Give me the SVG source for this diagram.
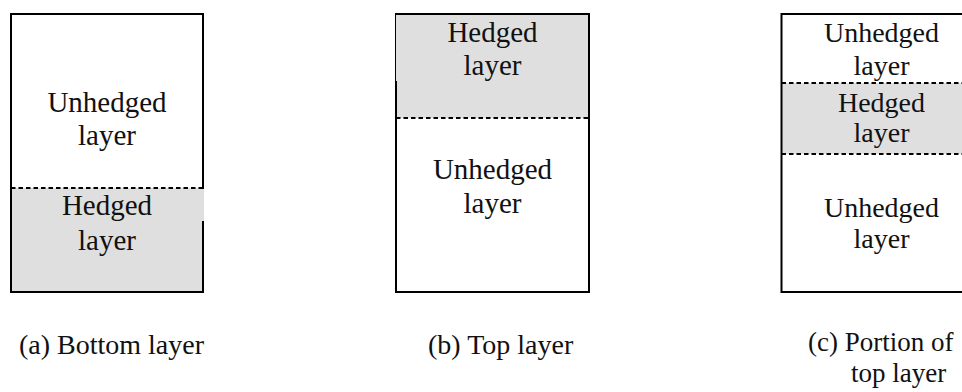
<svg xmlns="http://www.w3.org/2000/svg" width="962" height="392" viewBox="0 0 962 392">
  <defs>
    <style>
      .box { fill: none; stroke: #000; stroke-width: 2; }
      .bg { fill: #ffffff; }
      .hedge { fill: #dfdfdf; }
      .dash { stroke: #000; stroke-width: 2; stroke-dasharray: 4.5 3; fill: none; }
      .lbl { font-family: "Liberation Serif", "Times New Roman", serif; font-size: 29px; fill: #111; text-anchor: middle; }
      .lblc { font-family: "Liberation Serif", "Times New Roman", serif; font-size: 28px; fill: #111; text-anchor: middle; }
      .cap { font-family: "Liberation Serif", "Times New Roman", serif; font-size: 28px; fill: #111; }
      .capc { font-family: "Liberation Serif", "Times New Roman", serif; font-size: 27px; fill: #111; }
    </style>
  </defs>
  <rect x="0" y="0" width="962" height="392" fill="#ffffff"/>

  <g id="panel-a">
    <rect class="bg" x="11" y="14" width="192" height="278"/>
    <rect class="hedge" x="11" y="188" width="192" height="104"/>
    <rect class="box" x="11" y="14" width="192" height="278"/>
    <rect class="hedge" x="12" y="189" width="192" height="32"/>
    <line class="dash" x1="11" y1="188" x2="203" y2="188"/>
    <text class="lbl" x="107" y="112">Unhedged</text>
    <text class="lbl" x="107" y="145">layer</text>
    <text class="lbl" x="107" y="215">Hedged</text>
    <text class="lbl" x="107" y="250">layer</text>
  </g>

  <g id="panel-b">
    <rect class="bg" x="396" y="14" width="193" height="278"/>
    <rect class="hedge" x="396" y="14" width="193" height="104"/>
    <rect class="box" x="396" y="14" width="193" height="278"/>
    <rect class="hedge" x="396" y="15" width="40" height="66"/>
    <line class="dash" x1="396" y1="118" x2="589" y2="118"/>
    <text class="lbl" x="492.5" y="42">Hedged</text>
    <text class="lbl" x="492.5" y="75">layer</text>
    <text class="lbl" x="492.5" y="179">Unhedged</text>
    <text class="lbl" x="492.5" y="213">layer</text>
  </g>

  <g id="panel-c">
    <rect class="bg" x="781.5" y="14" width="200" height="278"/>
    <rect class="hedge" x="781.5" y="83" width="200" height="71"/>
    <rect class="box" x="781.5" y="14" width="200" height="278"/>
    <line class="dash" x1="781.5" y1="83" x2="962" y2="83"/>
    <line class="dash" x1="781.5" y1="154" x2="962" y2="154"/>
    <text class="lblc" x="881.5" y="42">Unhedged</text>
    <text class="lblc" x="881.5" y="75">layer</text>
    <text class="lblc" x="881.5" y="112">Hedged</text>
    <text class="lblc" x="881.5" y="142">layer</text>
    <text class="lblc" x="881.5" y="217">Unhedged</text>
    <text class="lblc" x="881.5" y="248">layer</text>
  </g>

  <g id="captions">
    <text id="cap-a" class="cap" x="19" y="354">(a) Bottom layer</text>
    <text id="cap-b" class="cap" x="428" y="354">(b) Top layer</text>
    <text id="cap-c" class="capc" x="808" y="351">(c) Portion of</text>
    <text id="cap-c2" class="capc" x="851" y="382">top layer</text>
  </g>
</svg>
